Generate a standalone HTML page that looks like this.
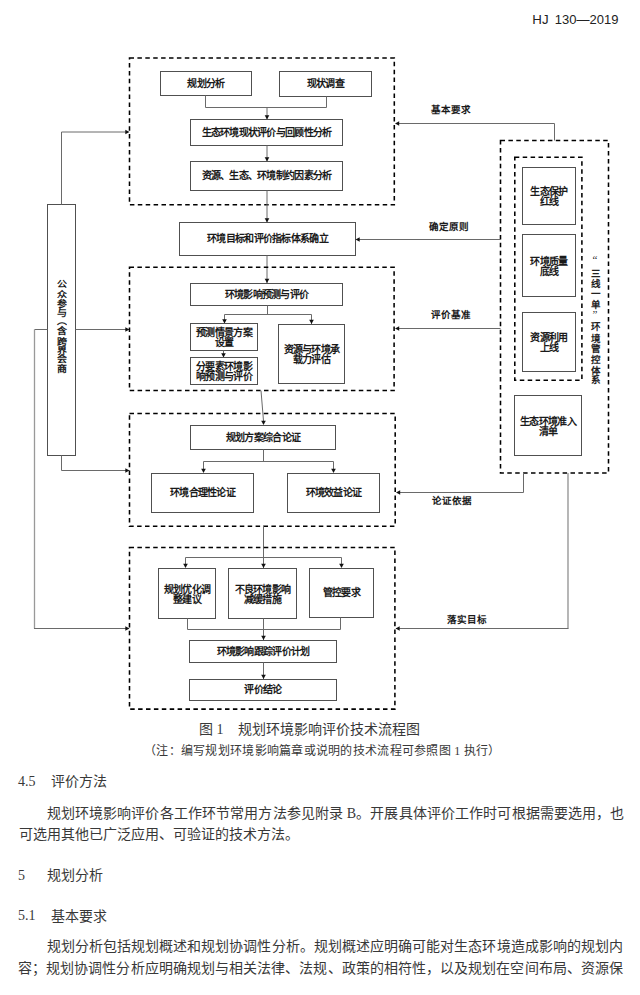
<!DOCTYPE html>
<html lang="zh-CN"><head><meta charset="utf-8"><style>
html,body{margin:0;padding:0;background:#fff;}
body{width:640px;height:995px;position:relative;overflow:hidden;font-family:"Liberation Serif",serif;color:#222;}
.lb{position:absolute;display:flex;align-items:center;justify-content:center;text-align:center;letter-spacing:-0.72px;font-family:"Liberation Sans",sans-serif;font-weight:bold;color:#1a1a1a;}
.al{position:absolute;font-family:"Liberation Sans",sans-serif;font-weight:bold;font-size:9.5px;line-height:11px;color:#1a1a1a;white-space:nowrap;}
.vc{position:absolute;width:10px;text-align:center;font-family:"Liberation Sans",sans-serif;font-weight:bold;font-size:9.5px;line-height:11px;color:#222;}
.vq{position:absolute;width:10px;text-align:center;font-family:"Liberation Serif",serif;font-size:11px;line-height:11px;color:#1a1a1a;}
.vc2{position:absolute;width:10px;text-align:center;font-family:"Liberation Sans",sans-serif;font-weight:bold;font-size:10px;line-height:11px;color:#1a1a1a;transform:scaleY(0.86)}
.hd{position:absolute;top:12px;font-family:"Liberation Sans",sans-serif;font-size:13px;line-height:16px;color:#222;white-space:nowrap;}
.t{position:absolute;white-space:nowrap;font-family:"Liberation Serif",serif;font-size:14px;line-height:20px;color:#383838;}
.h{position:absolute;white-space:nowrap;font-family:"Liberation Serif",serif;font-size:14px;line-height:20px;color:#383838;}
.h b{font-family:"Liberation Sans",sans-serif;font-weight:normal;}
.j{position:absolute;left:18.5px;width:604px;font-family:"Liberation Serif",serif;font-size:14px;line-height:21px;color:#383838;text-align:justify;text-align-last:justify;white-space:nowrap}
</style></head><body>
<div class="hd" style="left:532.3px;font-size:13.3px">HJ</div><div class="hd" style="left:554.8px">130—2019</div>
<svg width="640" height="995" style="position:absolute;left:0;top:0">
<rect x="129.5" y="58" width="264.8" height="146.8" fill="none" stroke="#000" stroke-width="1.55" stroke-dasharray="4.5 3.4"/>
<rect x="160.5" y="71.5" width="91.0" height="24.0" fill="none" stroke="#505050" stroke-width="1"/>
<rect x="279.5" y="71.5" width="92.0" height="25.0" fill="none" stroke="#505050" stroke-width="1"/>
<polyline points="205.5,95.5 205.5,107.5 326.5,107.5 326.5,96.5" fill="none" stroke="#6a6a6a" stroke-width="1"/>
<polyline points="267,107.5 267,119.5" fill="none" stroke="#6a6a6a" stroke-width="1"/>
<polygon points="267,119.5 264.7,115.3 269.3,115.3" fill="#111"/>
<rect x="190.5" y="119.5" width="152.0" height="26.0" fill="none" stroke="#505050" stroke-width="1"/>
<polyline points="267,145.5 267,161.5" fill="none" stroke="#6a6a6a" stroke-width="1"/>
<polygon points="267,161.5 264.7,157.3 269.3,157.3" fill="#111"/>
<rect x="190.5" y="161.5" width="152.0" height="29.0" fill="none" stroke="#505050" stroke-width="1"/>
<polyline points="267,190.5 267,222.5" fill="none" stroke="#6a6a6a" stroke-width="1"/>
<polygon points="267,222.5 264.7,218.3 269.3,218.3" fill="#111"/>
<rect x="179.5" y="222.5" width="176.0" height="33.0" fill="none" stroke="#505050" stroke-width="1"/>
<polyline points="267,255.5 267,283" fill="none" stroke="#6a6a6a" stroke-width="1"/>
<polygon points="267,283 264.7,278.8 269.3,278.8" fill="#111"/>
<rect x="129.5" y="267.3" width="264.6" height="123.30000000000001" fill="none" stroke="#000" stroke-width="1.55" stroke-dasharray="4.5 3.4"/>
<rect x="190.5" y="283.5" width="152.0" height="22.0" fill="none" stroke="#505050" stroke-width="1"/>
<polyline points="267.5,305.5 267.5,314.5" fill="none" stroke="#6a6a6a" stroke-width="1"/>
<polyline points="224.5,323 224.5,314.5 311.5,314.5 311.5,324" fill="none" stroke="#6a6a6a" stroke-width="1"/>
<polygon points="224.5,323.5 222.2,319.3 226.8,319.3" fill="#111"/>
<polygon points="311.5,324 309.2,319.8 313.8,319.8" fill="#111"/>
<rect x="190.5" y="323.5" width="67.0" height="27.0" fill="none" stroke="#505050" stroke-width="1"/>
<polyline points="223.5,350.5 223.5,357" fill="none" stroke="#6a6a6a" stroke-width="1"/>
<polygon points="223.5,357.5 221.2,353.3 225.8,353.3" fill="#111"/>
<rect x="190.5" y="357.5" width="67.0" height="27.0" fill="none" stroke="#505050" stroke-width="1"/>
<rect x="278.5" y="324.5" width="66.0" height="59.0" fill="none" stroke="#505050" stroke-width="1"/>
<polyline points="261,390.6 263.5,421" fill="none" stroke="#6a6a6a" stroke-width="1"/>
<polygon points="263.5,425 261.2,420.8 265.8,420.8" fill="#111"/>
<rect x="129.5" y="413.5" width="265.7" height="112.70000000000005" fill="none" stroke="#000" stroke-width="1.55" stroke-dasharray="4.5 3.4"/>
<rect x="190.5" y="425.5" width="145.0" height="24.0" fill="none" stroke="#505050" stroke-width="1"/>
<polyline points="263.5,449.5 263.5,461.5" fill="none" stroke="#6a6a6a" stroke-width="1"/>
<polyline points="203.5,472 203.5,461.5 333.5,461.5 333.5,472" fill="none" stroke="#6a6a6a" stroke-width="1"/>
<polygon points="203.5,473 201.2,468.8 205.8,468.8" fill="#111"/>
<polygon points="333.5,473 331.2,468.8 335.8,468.8" fill="#111"/>
<rect x="151.5" y="473.5" width="102.0" height="39.0" fill="none" stroke="#505050" stroke-width="1"/>
<rect x="287.5" y="473.5" width="92.0" height="39.0" fill="none" stroke="#505050" stroke-width="1"/>
<polyline points="263.5,525.5 263.5,568" fill="none" stroke="#6a6a6a" stroke-width="1"/>
<polygon points="263.5,568 261.2,563.8 265.8,563.8" fill="#111"/>
<rect x="129.5" y="547.4" width="265.4" height="161.70000000000005" fill="none" stroke="#000" stroke-width="1.55" stroke-dasharray="4.5 3.4"/>
<polyline points="185.5,567 185.5,557.5 341.5,557.5 341.5,567" fill="none" stroke="#6a6a6a" stroke-width="1"/>
<polygon points="185.5,568 183.2,563.8 187.8,563.8" fill="#111"/>
<polygon points="341.5,568 339.2,563.8 343.8,563.8" fill="#111"/>
<rect x="158.5" y="568.5" width="57.0" height="50.0" fill="none" stroke="#505050" stroke-width="1"/>
<rect x="228.5" y="568.5" width="68.0" height="50.0" fill="none" stroke="#505050" stroke-width="1"/>
<rect x="309.5" y="568.5" width="64.0" height="49.0" fill="none" stroke="#505050" stroke-width="1"/>
<polyline points="187.5,618.5 187.5,629.5 340.5,629.5 340.5,617.5" fill="none" stroke="#6a6a6a" stroke-width="1"/>
<polyline points="263.5,618.5 263.5,640" fill="none" stroke="#6a6a6a" stroke-width="1"/>
<polygon points="263.5,640 261.2,635.8 265.8,635.8" fill="#111"/>
<rect x="189.5" y="640.5" width="147.0" height="22.0" fill="none" stroke="#505050" stroke-width="1"/>
<polyline points="263.5,662.5 263.5,679" fill="none" stroke="#6a6a6a" stroke-width="1"/>
<polygon points="263.5,679 261.2,674.8 265.8,674.8" fill="#111"/>
<rect x="189.5" y="679.5" width="147.0" height="21.0" fill="none" stroke="#505050" stroke-width="1"/>
<rect x="500.5" y="140.5" width="108.0" height="332.5" fill="none" stroke="#000" stroke-width="1.55" stroke-dasharray="4.5 3.4"/>
<rect x="514.8" y="157.3" width="67.10000000000002" height="222.89999999999998" fill="none" stroke="#000" stroke-width="1.55" stroke-dasharray="4.5 3.4"/>
<rect x="522.5" y="167.5" width="53.0" height="57.0" fill="none" stroke="#505050" stroke-width="1"/>
<rect x="522.5" y="234.5" width="53.0" height="62.0" fill="none" stroke="#505050" stroke-width="1"/>
<rect x="522.5" y="312.5" width="53.0" height="59.0" fill="none" stroke="#505050" stroke-width="1"/>
<rect x="514.5" y="395.5" width="67.0" height="60.0" fill="none" stroke="#505050" stroke-width="1"/>
<polyline points="554.5,140.5 554.5,123.5 396,123.5" fill="none" stroke="#6a6a6a" stroke-width="1"/>
<polygon points="395,123.5 399.2,121.2 399.2,125.8" fill="#111"/>
<polyline points="500.5,239.5 357,239.5" fill="none" stroke="#6a6a6a" stroke-width="1"/>
<polygon points="355.5,239.5 359.7,237.2 359.7,241.8" fill="#111"/>
<polyline points="500.5,328.5 396,328.5" fill="none" stroke="#6a6a6a" stroke-width="1"/>
<polygon points="395,328.5 399.2,326.2 399.2,330.8" fill="#111"/>
<polyline points="523.5,473 523.5,492.5 397,492.5" fill="none" stroke="#6a6a6a" stroke-width="1"/>
<polygon points="396,492.5 400.2,490.2 400.2,494.8" fill="#111"/>
<polyline points="568,473 568,628.5" fill="none" stroke="#909090" stroke-width="1.3"/>
<polyline points="568.5,628.5 396,628.5" fill="none" stroke="#6a6a6a" stroke-width="1"/>
<polygon points="395.5,628.5 399.7,626.2 399.7,630.8" fill="#111"/>
<rect x="47.5" y="204.5" width="28.0" height="251.0" fill="none" stroke="#505050" stroke-width="1"/>
<polyline points="61.5,204.5 61.5,132 128,132" fill="none" stroke="#6a6a6a" stroke-width="1"/>
<polygon points="129.5,132 125.3,129.7 125.3,134.3" fill="#111"/>
<polyline points="75.5,329.5 128,329.5" fill="none" stroke="#6a6a6a" stroke-width="1"/>
<polygon points="129.5,329.5 125.3,327.2 125.3,331.8" fill="#111"/>
<polyline points="34.5,329.5 47.5,329.5" fill="none" stroke="#6a6a6a" stroke-width="1"/>
<polyline points="61.5,455.5 61.5,470.5 128,470.5" fill="none" stroke="#6a6a6a" stroke-width="1"/>
<polygon points="129.5,470.5 125.3,468.2 125.3,472.8" fill="#111"/>
<polyline points="34.5,329.5 34.5,628.5" fill="none" stroke="#999" stroke-width="1.3"/>
<polyline points="34,628.5 128,628.5" fill="none" stroke="#6a6a6a" stroke-width="1"/>
<polygon points="129.5,628.5 125.3,626.2 125.3,630.8" fill="#111"/>
</svg>
<div class="lb" style="left:160.5px;top:71.5px;width:91.0px;height:24.0px;font-size:10px;line-height:10px;"><span style="position:relative;top:0px">规划分析</span></div>
<div class="lb" style="left:279.5px;top:71.5px;width:92.0px;height:25.0px;font-size:10px;line-height:10px;"><span style="position:relative;top:0px">现状调查</span></div>
<div class="lb" style="left:190.5px;top:119.5px;width:152.0px;height:26.0px;font-size:10px;line-height:10px;"><span style="position:relative;top:0px">生态环境现状评价与回顾性分析</span></div>
<div class="lb" style="left:190.5px;top:161.5px;width:152.0px;height:29.0px;font-size:10px;line-height:10px;"><span style="position:relative;top:0px">资源、生态、环境制约因素分析</span></div>
<div class="lb" style="left:179.5px;top:222.5px;width:176.0px;height:33.0px;font-size:10px;line-height:10px;"><span style="position:relative;top:0px">环境目标和评价指标体系确立</span></div>
<div class="lb" style="left:190.5px;top:283.5px;width:152.0px;height:22.0px;font-size:10px;line-height:10px;"><span style="position:relative;top:0px">环境影响预测与评价</span></div>
<div class="lb" style="left:190.5px;top:323.5px;width:67.0px;height:27.0px;font-size:10px;line-height:10px;"><span style="position:relative;top:1.2px">预测情景方案<br>设置</span></div>
<div class="lb" style="left:190.5px;top:357.5px;width:67.0px;height:27.0px;font-size:10px;line-height:10px;"><span style="position:relative;top:1.2px">分要素环境影<br>响预测与评价</span></div>
<div class="lb" style="left:278.5px;top:324.5px;width:66.0px;height:59.0px;font-size:10px;line-height:10px;"><span style="position:relative;top:1.2px">资源与环境承<br>载力评估</span></div>
<div class="lb" style="left:190.5px;top:425.5px;width:145.0px;height:24.0px;font-size:10px;line-height:10px;"><span style="position:relative;top:0px">规划方案综合论证</span></div>
<div class="lb" style="left:151.5px;top:473.5px;width:102.0px;height:39.0px;font-size:10px;line-height:10px;"><span style="position:relative;top:0px">环境合理性论证</span></div>
<div class="lb" style="left:287.5px;top:473.5px;width:92.0px;height:39.0px;font-size:10px;line-height:10px;"><span style="position:relative;top:0px">环境效益论证</span></div>
<div class="lb" style="left:158.5px;top:568.5px;width:57.0px;height:50.0px;font-size:10px;line-height:10px;"><span style="position:relative;top:1.2px">规划优化调<br>整建议</span></div>
<div class="lb" style="left:228.5px;top:568.5px;width:68.0px;height:50.0px;font-size:10px;line-height:10px;"><span style="position:relative;top:1.2px">不良环境影响<br>减缓措施</span></div>
<div class="lb" style="left:309.5px;top:568.5px;width:64.0px;height:49.0px;font-size:10px;line-height:10px;"><span style="position:relative;top:0px">管控要求</span></div>
<div class="lb" style="left:189.5px;top:640.5px;width:147.0px;height:22.0px;font-size:10px;line-height:10px;"><span style="position:relative;top:0px">环境影响跟踪评价计划</span></div>
<div class="lb" style="left:189.5px;top:679.5px;width:147.0px;height:21.0px;font-size:10px;line-height:10px;"><span style="position:relative;top:0px">评价结论</span></div>
<div class="lb" style="left:522.5px;top:167.5px;width:53.0px;height:57.0px;font-size:10px;line-height:10px;"><span style="position:relative;top:1.2px">生态保护<br>红线</span></div>
<div class="lb" style="left:522.5px;top:234.5px;width:53.0px;height:62.0px;font-size:10px;line-height:10px;"><span style="position:relative;top:1.2px">环境质量<br>底线</span></div>
<div class="lb" style="left:522.5px;top:312.5px;width:53.0px;height:59.0px;font-size:10px;line-height:10px;"><span style="position:relative;top:1.2px">资源利用<br>上线</span></div>
<div class="lb" style="left:514.5px;top:395.5px;width:67.0px;height:60.0px;font-size:10px;line-height:10px;"><span style="position:relative;top:1.2px">生态环境准入<br>清单</span></div>
<div class="al" style="left:431px;top:103.5px;">基本要求</div>
<div class="al" style="left:429px;top:220.5px;">确定原则</div>
<div class="al" style="left:431px;top:308.5px;">评价基准</div>
<div class="al" style="left:432px;top:494.5px;">论证依据</div>
<div class="al" style="left:447px;top:613.5px;">落实目标</div>
<div class="vc" style="left:591px;top:267.5px;">三</div>
<div class="vc" style="left:591px;top:277.9px;">线</div>
<div class="vc" style="left:591px;top:288.4px;">一</div>
<div class="vc" style="left:591px;top:298.8px;">单</div>
<div class="vc" style="left:591px;top:321.3px;">环</div>
<div class="vc" style="left:591px;top:332.5px;">境</div>
<div class="vc" style="left:591px;top:343.0px;">管</div>
<div class="vc" style="left:591px;top:353.5px;">控</div>
<div class="vc" style="left:591px;top:364.7px;">体</div>
<div class="vc" style="left:591px;top:374.4px;">系</div>
<div class="vq" style="left:590px;top:254px;">“</div>
<div class="vq" style="left:590px;top:309px;">”</div>
<div class="vc2" style="left:56.5px;top:278.0px;">公</div>
<div class="vc2" style="left:56.5px;top:288.5px;">众</div>
<div class="vc2" style="left:56.5px;top:297.6px;">参</div>
<div class="vc2" style="left:56.5px;top:306.8px;">与</div>
<div class="vc2" style="left:56.5px;top:325.0px;">含</div>
<div class="vc2" style="left:56.5px;top:335.5px;">跨</div>
<div class="vc2" style="left:56.5px;top:344.7px;">界</div>
<div class="vc2" style="left:56.5px;top:352.5px;">会</div>
<div class="vc2" style="left:56.5px;top:363.0px;">商</div>
<div class="vc2" style="left:56.5px;top:314.5px;">︵</div>
<div class="t" style="left:199px;top:720px;font-size:14px">图 1&nbsp;&nbsp;&nbsp;&nbsp;规划环境影响评价技术流程图</div>
<div class="t" style="left:144px;top:741px;font-size:12px;letter-spacing:0.28px">（注：编写规划环境影响篇章或说明的技术流程可参照图 1 执行）</div>
<div class="h" style="left:18px;top:772.3px">4.5</div><div class="h" style="left:51px;top:771px"><b>评价方法</b></div>
<div class="j" style="top:803px;left:46.5px;width:578px">规划环境影响评价各工作环节常用方法参见附录 B。开展具体评价工作时可根据需要选用，也</div>
<div class="t" style="left:18.5px;top:824.5px">可选用其他已广泛应用、可验证的技术方法。</div>
<div class="h" style="left:18px;top:865.5px">5</div><div class="h" style="left:46.5px;top:864.5px"><b>规划分析</b></div>
<div class="h" style="left:18px;top:906.3px">5.1</div><div class="h" style="left:51px;top:905.5px"><b>基本要求</b></div>
<div class="j" style="top:936px;left:46.5px;width:576.5px">规划分析包括规划概述和规划协调性分析。规划概述应明确可能对生态环境造成影响的规划内</div>
<div class="j" style="top:957.5px;left:18px;width:605px">容；规划协调性分析应明确规划与相关法律、法规、政策的相符性，以及规划在空间布局、资源保</div>
</body></html>
